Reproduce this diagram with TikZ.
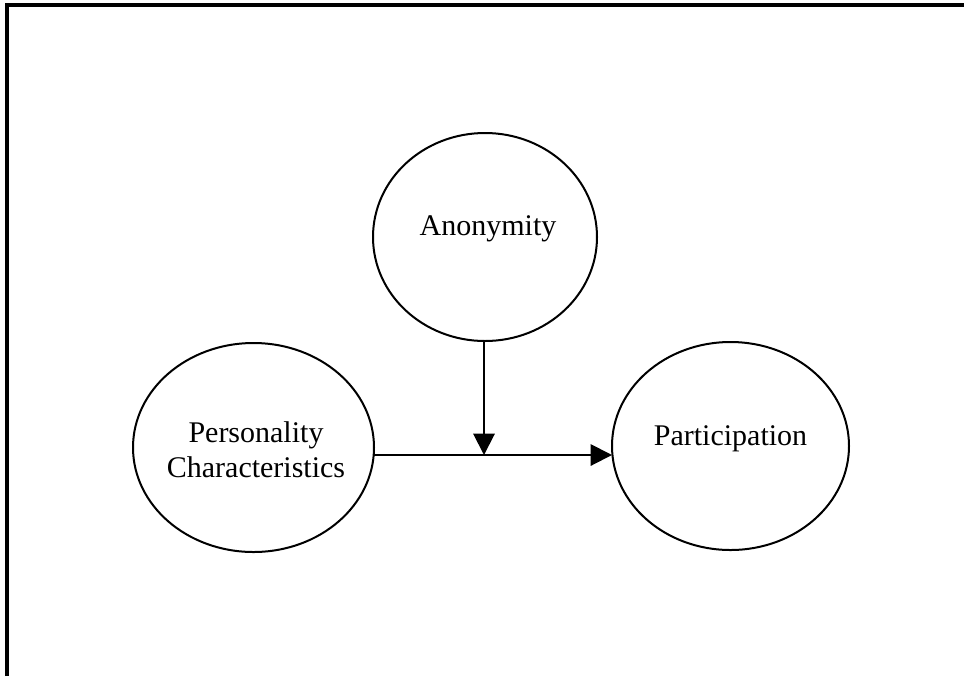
\documentclass[tikz,border=0pt]{standalone}
\usepackage{fontspec}
\setmainfont{Liberation Serif}
\usepackage{tikz}
\usetikzlibrary{calc,positioning,arrows.meta,shapes}
\tikzset{>={Triangle[length=16pt,width=16pt]}}

\begin{document}
\begin{tikzpicture}[x=0.75pt,y=-0.75pt,
    blob/.style={draw,ellipse,line width=1.5pt,inner sep=0pt,outer sep=0pt},
    txt/.style={font=\fontsize{22.5}{26.25}\selectfont,align=center,inner sep=0pt}]
              \useasboundingbox (0,0) rectangle (964,676);
              \draw[line width=2.5pt] (7,676) -- (7,5) -- (964,5);

              \node[blob,minimum width=168pt,minimum height=156pt] (anon) at (485,237) {};
              \node[blob,minimum width=180.75pt,minimum height=156.75pt] (pers) at (253.5,447.5) {};
              \node[blob,minimum width=177.75pt,minimum height=156pt] (part) at (730.5,446) {};

              \node[txt] (anontxt) at (488,229) {Anonymity};
              \node[txt] (perstxt) at (256,450) {Personality\\Characteristics};
              \node[txt] (parttxt) at (730.5,439) {Participation};

              \coordinate (jn) at (484,455);
              \draw[->,line width=1.5pt] (pers.east |- jn) -- (part.west |- jn);
              \draw[->,line width=1.5pt] (anon.south -| jn) -- (jn);
             \end{tikzpicture}
\end{document}
